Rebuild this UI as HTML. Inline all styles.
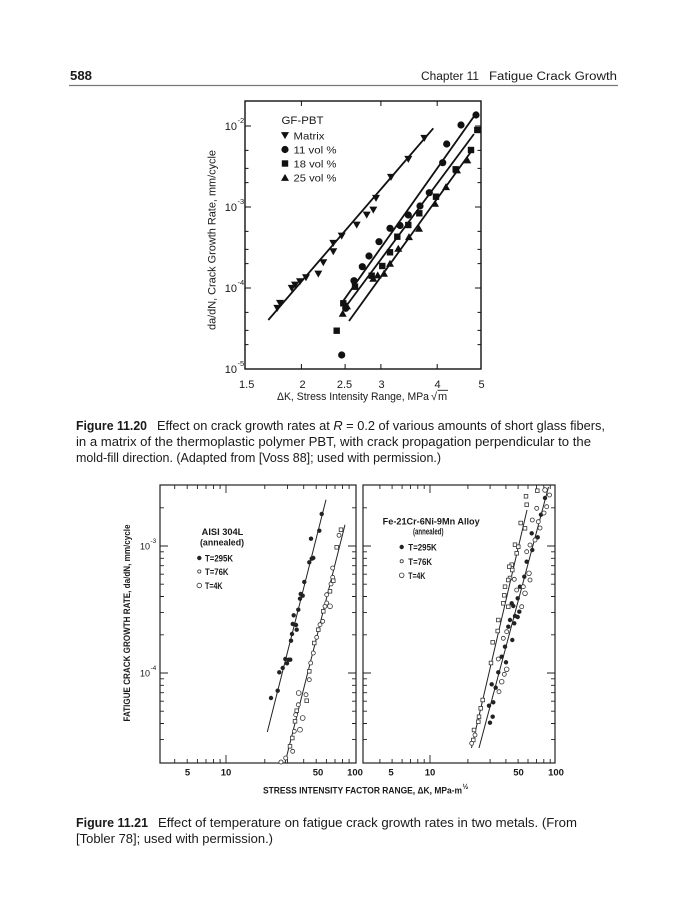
<!DOCTYPE html>
<html><head><meta charset="utf-8"><style>
html,body{margin:0;padding:0;background:#fff;}
svg{display:block;}
text{font-family:"Liberation Sans",Arial,sans-serif;fill:#1a1a1a;}
</style></head><body>
<svg width="690" height="900" viewBox="0 0 690 900" xmlns="http://www.w3.org/2000/svg">
<defs>
<path id="td" d="M-4,-3.4 L4,-3.4 L0,3.6Z" fill="#111"/>
<path id="tu" d="M-4,3.4 L4,3.4 L0,-3.6Z" fill="#111"/>
</defs>
<rect width="690" height="900" fill="#fff"/>

<!-- Header -->
<text x="70" y="80" font-size="12.5" font-weight="bold" textLength="22" lengthAdjust="spacingAndGlyphs">588</text>
<text x="421" y="80" font-size="11.5" textLength="58" lengthAdjust="spacingAndGlyphs">Chapter 11</text>
<text x="489" y="80" font-size="11.5" textLength="128" lengthAdjust="spacingAndGlyphs">Fatigue Crack Growth</text>
<line x1="69" y1="85.5" x2="618" y2="85.5" stroke="#777" stroke-width="1.2"/>

<!-- ================= TOP CHART ================= -->
<rect x="245" y="101" width="236" height="268" fill="none" stroke="#111" stroke-width="1.4"/>
<path d="M245 126h6M245 207h6M245 288h6M245 150.4h3.5M245 168.4h3.5M245 182.6h3.5M245 231.4h3.5M245 249.4h3.5M245 263.6h3.5M245 312.4h3.5M245 330.4h3.5M245 344.6h3.5
M481 126h-6M481 207h-6M481 288h-6M481 150.4h-3.5M481 168.4h-3.5M481 182.6h-3.5M481 231.4h-3.5M481 249.4h-3.5M481 263.6h-3.5M481 312.4h-3.5M481 330.4h-3.5M481 344.6h-3.5
M301.4 369v-5M345.1 369v-5M380.9 369v-5M437.2 369v-5M301.4 101v5M380.9 101v5M437.2 101v5" stroke="#111" stroke-width="1"/>

<!-- y tick labels -->
<g font-size="11">
<text x="237" y="130" text-anchor="end">10</text><text x="237.5" y="123" font-size="7.5">-2</text>
<text x="237" y="211" text-anchor="end">10</text><text x="237.5" y="204" font-size="7.5">-3</text>
<text x="237" y="292" text-anchor="end">10</text><text x="237.5" y="285" font-size="7.5">-4</text>
<text x="237" y="373" text-anchor="end">10</text><text x="237.5" y="366" font-size="7.5">-5</text>
</g>
<!-- x tick labels -->
<g font-size="11" text-anchor="middle">
<text x="246.7" y="388">1.5</text>
<text x="302.5" y="388">2</text>
<text x="344.5" y="388">2.5</text>
<text x="381.5" y="388">3</text>
<text x="437.5" y="388">4</text>
<text x="481.5" y="388">5</text>
</g>
<text x="277" y="400" font-size="11" textLength="152" lengthAdjust="spacingAndGlyphs">ΔK, Stress Intensity Range, MPa</text>
<text x="431" y="400" font-size="11">√</text>
<text x="438" y="400" font-size="11">m</text>
<line x1="437.5" y1="390.3" x2="448" y2="390.3" stroke="#1a1a1a" stroke-width="0.9"/>
<text transform="translate(215.5,240) rotate(-90)" font-size="11" text-anchor="middle" textLength="180" lengthAdjust="spacingAndGlyphs">da/dN, Crack Growth Rate, mm/cycle</text>

<!-- legend -->
<text x="281.5" y="124" font-size="11" textLength="42" lengthAdjust="spacingAndGlyphs">GF-PBT</text>
<use href="#td" x="285" y="135.5"/>
<text x="293.5" y="139.5" font-size="10.5" textLength="31" lengthAdjust="spacingAndGlyphs">Matrix</text>
<circle cx="285" cy="149.5" r="3.6" fill="#111"/>
<text x="293.5" y="153.5" font-size="10.5" textLength="43" lengthAdjust="spacingAndGlyphs">11 vol %</text>
<rect x="281.8" y="160.3" width="6.4" height="6.4" fill="#111"/>
<text x="293.5" y="167.5" font-size="10.5" textLength="43" lengthAdjust="spacingAndGlyphs">18 vol %</text>
<use href="#tu" x="285" y="177.5"/>
<text x="293.5" y="181.5" font-size="10.5" textLength="43" lengthAdjust="spacingAndGlyphs">25 vol %</text>

<!-- fit lines -->
<g stroke="#111" stroke-width="1.8" fill="none">
<line x1="268.3" y1="320" x2="433.3" y2="128.3"/>
<line x1="342.7" y1="301.7" x2="477.3" y2="111.7"/>
<line x1="344" y1="309" x2="474" y2="134"/>
<line x1="349" y1="321" x2="473" y2="149"/>
</g>

<!-- Matrix -->
<use href="#td" x="277.3" y="308.3"/><use href="#td" x="280" y="303.3"/><use href="#td" x="291.7" y="288.3"/>
<use href="#td" x="295" y="285"/><use href="#td" x="300" y="281.7"/><use href="#td" x="306" y="277.7"/>
<use href="#td" x="318.3" y="274"/><use href="#td" x="323.3" y="262.7"/><use href="#td" x="333.3" y="251.7"/>
<use href="#td" x="333.3" y="243.3"/><use href="#td" x="341.7" y="236"/><use href="#td" x="356.7" y="225"/>
<use href="#td" x="366.7" y="215"/><use href="#td" x="373.3" y="210"/><use href="#td" x="376" y="198.3"/>
<use href="#td" x="391" y="177.3"/><use href="#td" x="408.3" y="159.3"/><use href="#td" x="424.3" y="138.3"/>

<!-- 11 vol% -->
<g fill="#111">
<circle cx="341.7" cy="355" r="3.6"/><circle cx="345.7" cy="308.3" r="3.6"/><circle cx="354" cy="280.7" r="3.6"/>
<circle cx="362.3" cy="266.7" r="3.6"/><circle cx="369" cy="256" r="3.6"/><circle cx="379" cy="241.7" r="3.6"/>
<circle cx="390" cy="228.3" r="3.6"/><circle cx="400" cy="225.5" r="3.6"/><circle cx="408.3" cy="215" r="3.6"/>
<circle cx="420" cy="206" r="3.6"/><circle cx="429.3" cy="192.7" r="3.6"/><circle cx="442.7" cy="162.7" r="3.6"/>
<circle cx="446.7" cy="144" r="3.6"/><circle cx="461" cy="125" r="3.6"/><circle cx="476" cy="115" r="3.6"/>
</g>
<!-- 18 vol% -->
<g fill="#111">
<rect x="333.5" y="327.5" width="6.4" height="6.4"/><rect x="340.1" y="300.1" width="6.4" height="6.4"/>
<rect x="351.8" y="283.5" width="6.4" height="6.4"/><rect x="368.5" y="272.5" width="6.4" height="6.4"/>
<rect x="379.1" y="262.8" width="6.4" height="6.4"/><rect x="386.8" y="249.1" width="6.4" height="6.4"/>
<rect x="394.1" y="233.5" width="6.4" height="6.4"/><rect x="405.1" y="221.8" width="6.4" height="6.4"/>
<rect x="416.1" y="210.1" width="6.4" height="6.4"/><rect x="432.8" y="193.5" width="6.4" height="6.4"/>
<rect x="452.5" y="166.1" width="6.4" height="6.4"/><rect x="467.8" y="146.8" width="6.4" height="6.4"/>
<rect x="474.1" y="126.8" width="6.4" height="6.4"/>
</g>
<!-- 25 vol% -->
<use href="#tu" x="342.7" y="313.3"/><use href="#tu" x="347" y="306"/><use href="#tu" x="373.3" y="278.3"/>
<use href="#tu" x="377.7" y="275"/><use href="#tu" x="384" y="273.3"/><use href="#tu" x="390" y="263.3"/>
<use href="#tu" x="398.3" y="248.3"/><use href="#tu" x="409" y="236.7"/><use href="#tu" x="419" y="228.3"/>
<use href="#tu" x="435" y="203.3"/><use href="#tu" x="446" y="186.7"/><use href="#tu" x="457" y="170"/>
<use href="#tu" x="467.3" y="160"/>

<!-- Caption 11.20 -->
<g font-size="12.5">
<text x="76" y="430" font-weight="bold" textLength="71" lengthAdjust="spacingAndGlyphs">Figure 11.20</text>
<text x="157" y="430" textLength="448" lengthAdjust="spacingAndGlyphs">Effect on crack growth rates at <tspan font-style="italic">R</tspan> = 0.2 of various amounts of short glass fibers,</text>
<text x="76" y="446" textLength="515" lengthAdjust="spacingAndGlyphs">in a matrix of the thermoplastic polymer PBT, with crack propagation perpendicular to the</text>
<text x="76" y="462" textLength="365" lengthAdjust="spacingAndGlyphs">mold-fill direction. (Adapted from [Voss 88]; used with permission.)</text>
</g>

<!-- ================= BOTTOM CHART ================= -->
<g stroke="#222" fill="none">
<rect x="160" y="485" width="196" height="278" stroke-width="1.2"/>
<rect x="363" y="485" width="192" height="278" stroke-width="1.2"/>
<path stroke-width="0.9" d="M160 739.4h4M160 723.5h4M160 711.2h4M160 701.2h4M160 692.7h4M160 685.3h4M160 678.8h4M160 673h8M160 634.8h4M160 612.4h4M160 596.5h4M160 584.2h4M160 574.2h4M160 565.7h4M160 558.3h4M160 551.8h4M160 546h8M160 507.8h4
M356 739.4h-4M356 723.5h-4M356 711.2h-4M356 701.2h-4M356 692.7h-4M356 685.3h-4M356 678.8h-4M356 673h-8M356 634.8h-4M356 612.4h-4M356 596.5h-4M356 584.2h-4M356 574.2h-4M356 565.7h-4M356 558.3h-4M356 551.8h-4M356 546h-8M356 507.8h-4
M363 739.4h4M363 723.5h4M363 711.2h4M363 701.2h4M363 692.7h4M363 685.3h4M363 678.8h4M363 673h8M363 634.8h4M363 612.4h4M363 596.5h4M363 584.2h4M363 574.2h4M363 565.7h4M363 558.3h4M363 551.8h4M363 546h8M363 507.8h4
M555 739.4h-4M555 723.5h-4M555 711.2h-4M555 701.2h-4M555 692.7h-4M555 685.3h-4M555 678.8h-4M555 673h-8M555 634.8h-4M555 612.4h-4M555 596.5h-4M555 584.2h-4M555 574.2h-4M555 565.7h-4M555 558.3h-4M555 551.8h-4M555 546h-8M555 507.8h-4
M174.7 763v-4M187.2 763v-4M197.4 763v-4M206 763v-4M213.5 763v-4M220.1 763v-4M226 763v-8M264.8 763v-4M287.5 763v-4M303.7 763v-4M316.2 763v-4M326.4 763v-4M335 763v-4M342.5 763v-4M349.1 763v-4
M174.7 485v4M187.2 485v4M197.4 485v4M206 485v4M213.5 485v4M220.1 485v4M226 485v8M264.8 485v4M287.5 485v4M303.7 485v4M316.2 485v4M326.4 485v4M335 485v4M342.5 485v4M349.1 485v4
M379.9 763v-4M392.1 763v-4M402.1 763v-4M410.5 763v-4M417.8 763v-4M424.2 763v-4M430 763v-8M467.9 763v-4M490.1 763v-4M505.9 763v-4M518.1 763v-4M528 763v-4M536.5 763v-4M543.8 763v-4M550.2 763v-4
M379.9 485v4M392.1 485v4M402.1 485v4M410.5 485v4M417.8 485v4M424.2 485v4M430 485v8M467.9 485v4M490.1 485v4M505.9 485v4M518.1 485v4M528 485v4M536.5 485v4M543.8 485v4M550.2 485v4"/>
</g>

<!-- bottom y tick labels -->
<g font-size="9">
<text x="150" y="549.5" text-anchor="end">10</text><text x="150.5" y="543" font-size="6.5">-3</text>
<text x="150" y="676.5" text-anchor="end">10</text><text x="150.5" y="670" font-size="6.5">-4</text>
</g>
<!-- bottom x tick labels -->
<g font-size="9.5" font-weight="bold" text-anchor="middle">
<text x="187.5" y="775.5">5</text><text x="226" y="775.5">10</text><text x="318" y="775.5">50</text><text x="355" y="775.5">100</text>
<text x="391" y="775.5">5</text><text x="430" y="775.5">10</text><text x="518.5" y="775.5">50</text><text x="556" y="775.5">100</text>
</g>
<text x="263" y="793.5" font-size="9" font-weight="bold" textLength="199" lengthAdjust="spacingAndGlyphs">STRESS INTENSITY FACTOR RANGE, ΔK, MPa-m</text>
<text x="462.5" y="789" font-size="7" font-weight="bold">½</text>
<text transform="translate(130,623) rotate(-90)" font-size="9" font-weight="bold" text-anchor="middle" textLength="197" lengthAdjust="spacingAndGlyphs">FATIGUE CRACK GROWTH RATE, da/dN, mm/cycle</text>

<!-- left panel legend -->
<g font-size="8.8" font-weight="bold">
<text x="201.7" y="535" textLength="41.6" lengthAdjust="spacingAndGlyphs">AISI 304L</text>
<text x="200" y="545.5" textLength="44" lengthAdjust="spacingAndGlyphs">(annealed)</text>
<text x="205" y="561.5" textLength="28" lengthAdjust="spacingAndGlyphs">T=295K</text>
<text x="205" y="575" textLength="23.5" lengthAdjust="spacingAndGlyphs">T=76K</text>
<text x="205" y="589" textLength="17.5" lengthAdjust="spacingAndGlyphs">T=4K</text>
</g>
<circle cx="199.3" cy="558" r="2.2" fill="#222"/>
<circle cx="199.3" cy="571.5" r="1.6" fill="none" stroke="#333" stroke-width="0.8"/>
<circle cx="199.3" cy="585.5" r="2.3" fill="none" stroke="#333" stroke-width="0.8"/>

<!-- right panel legend -->
<g font-size="8.8" font-weight="bold">
<text x="382.7" y="524.5" textLength="97" lengthAdjust="spacingAndGlyphs">Fe-21Cr-6Ni-9Mn Alloy</text>
<text x="413" y="534.5" textLength="30.5" lengthAdjust="spacingAndGlyphs">(annealed)</text>
<text x="408.3" y="550.5" textLength="28.4" lengthAdjust="spacingAndGlyphs">T=295K</text>
<text x="408.3" y="564.8" textLength="23.7" lengthAdjust="spacingAndGlyphs">T=76K</text>
<text x="408.3" y="578.8" textLength="17" lengthAdjust="spacingAndGlyphs">T=4K</text>
</g>
<circle cx="401.7" cy="547" r="2.2" fill="#222"/>
<circle cx="401.7" cy="561.3" r="1.6" fill="none" stroke="#333" stroke-width="0.8"/>
<circle cx="401.7" cy="575.3" r="2.3" fill="none" stroke="#333" stroke-width="0.8"/>

<!-- bottom lines -->
<g stroke="#222" stroke-width="1">
<line x1="267.3" y1="732" x2="326" y2="499.7"/>
<line x1="285" y1="763" x2="345" y2="524.7"/>
<line x1="471.5" y1="748" x2="527" y2="510"/>
<line x1="479" y1="748" x2="548.5" y2="487"/>
</g>

<!-- left panel 295K -->
<g fill="#222">
<circle cx="271" cy="698" r="2.2"/><circle cx="277.7" cy="690.7" r="2.2"/><circle cx="279.3" cy="672.3" r="2.2"/>
<circle cx="282.7" cy="668" r="2.2"/><circle cx="285.3" cy="659" r="2.2"/><circle cx="287" cy="663.3" r="2.2"/>
<circle cx="288.7" cy="659.7" r="2.2"/><circle cx="290.3" cy="659.7" r="2.2"/><circle cx="291" cy="640.7" r="2.2"/>
<circle cx="292" cy="634" r="2.2"/><circle cx="292.7" cy="624" r="2.2"/><circle cx="293.7" cy="615.3" r="2.2"/>
<circle cx="296" cy="625" r="2.2"/><circle cx="296.7" cy="629.7" r="2.2"/><circle cx="298.3" cy="609.7" r="2.2"/>
<circle cx="300" cy="598.7" r="2.2"/><circle cx="300.7" cy="594" r="2.2"/><circle cx="302.7" cy="595.7" r="2.2"/>
<circle cx="304.3" cy="582" r="2.2"/><circle cx="309.3" cy="562.3" r="2.2"/><circle cx="311.7" cy="558.7" r="2.2"/>
<circle cx="311" cy="538.7" r="2.2"/><circle cx="313.3" cy="558" r="2.2"/><circle cx="319.3" cy="530.7" r="2.2"/>
<circle cx="321.7" cy="514" r="2.2"/>
</g>
<!-- left panel open -->
<g fill="#fff" stroke="#333" stroke-width="0.8">
<circle cx="281" cy="762" r="2"/><circle cx="285.7" cy="758" r="2"/><rect x="288.2" y="744.5" width="3.6" height="3.6"/>
<circle cx="292.7" cy="751.3" r="2"/><rect x="290.5" y="736.2" width="3.6" height="3.6"/><circle cx="294.3" cy="731.3" r="2"/>
<rect x="293.2" y="719.5" width="3.6" height="3.6"/><circle cx="295.7" cy="714.7" r="2"/><rect x="294.9" y="708.9" width="3.6" height="3.6"/>
<circle cx="298.3" cy="704.7" r="2"/><circle cx="300" cy="729.7" r="2.4"/><circle cx="302.7" cy="718" r="2.4"/>
<circle cx="298.7" cy="693" r="2.4"/><circle cx="306" cy="694.7" r="2"/><rect x="304.9" y="698.9" width="3.6" height="3.6"/>
<circle cx="309.3" cy="679.7" r="2"/><rect x="307.5" y="669.5" width="3.6" height="3.6"/><circle cx="310.7" cy="663" r="2"/>
<circle cx="313.3" cy="653" r="2"/><rect x="312.5" y="641.2" width="3.6" height="3.6"/><circle cx="316.7" cy="637.3" r="2"/>
<rect x="316.5" y="627.9" width="3.6" height="3.6"/><circle cx="320" cy="624.7" r="2"/><circle cx="322.7" cy="621.3" r="2"/>
<rect x="321.5" y="609.5" width="3.6" height="3.6"/><circle cx="325" cy="606.3" r="2"/><circle cx="326.7" cy="603" r="2"/>
<circle cx="330" cy="606.3" r="2.4"/><circle cx="326.7" cy="594.7" r="2"/><rect x="328.2" y="589.5" width="3.6" height="3.6"/>
<circle cx="331" cy="584" r="2"/><circle cx="332.7" cy="577.3" r="2"/><rect x="331.5" y="578.9" width="3.6" height="3.6"/>
<circle cx="332.7" cy="568" r="2"/><rect x="334.9" y="545.5" width="3.6" height="3.6"/><circle cx="339" cy="535.3" r="2"/>
<rect x="339.2" y="527.9" width="3.6" height="3.6"/>
</g>

<!-- right panel 295K -->
<g fill="#222">
<circle cx="541" cy="514.7" r="2.2"/><circle cx="531.7" cy="533.3" r="2.2"/><circle cx="537.7" cy="537.3" r="2.2"/>
<circle cx="532.3" cy="550" r="2.2"/><circle cx="526.7" cy="561.7" r="2.2"/><circle cx="524.3" cy="576.7" r="2.2"/>
<circle cx="520" cy="586.7" r="2.2"/><circle cx="517.7" cy="598.3" r="2.2"/><circle cx="511.7" cy="603.3" r="2.2"/>
<circle cx="513.3" cy="606" r="2.2"/><circle cx="519.3" cy="611.7" r="2.2"/><circle cx="515" cy="616" r="2.2"/>
<circle cx="510" cy="620" r="2.2"/><circle cx="514.3" cy="623.3" r="2.2"/><circle cx="517.7" cy="617" r="2.2"/>
<circle cx="508.3" cy="626.7" r="2.2"/><circle cx="512.3" cy="640" r="2.2"/><circle cx="505" cy="646.7" r="2.2"/>
<circle cx="501.7" cy="656.7" r="2.2"/><circle cx="506" cy="662.3" r="2.2"/><circle cx="498.3" cy="672.3" r="2.2"/>
<circle cx="491.7" cy="684.3" r="2.2"/><circle cx="495.7" cy="687.7" r="2.2"/><circle cx="493.3" cy="702.3" r="2.2"/>
<circle cx="489" cy="705.7" r="2.2"/><circle cx="492.7" cy="716.7" r="2.2"/><circle cx="490" cy="722.7" r="2.2"/>
<circle cx="545" cy="498" r="2.2"/>
</g>
<!-- right panel open squares -->
<g fill="#fff" stroke="#333" stroke-width="0.8">
<rect x="524.2" y="494.5" width="3.6" height="3.6"/><rect x="524.9" y="502.9" width="3.6" height="3.6"/>
<rect x="535.5" y="488.9" width="3.6" height="3.6"/><rect x="518.9" y="521.2" width="3.6" height="3.6"/>
<rect x="523.2" y="526.5" width="3.6" height="3.6"/><rect x="513.2" y="542.9" width="3.6" height="3.6"/>
<rect x="516.5" y="544.9" width="3.6" height="3.6"/><rect x="514.9" y="551.5" width="3.6" height="3.6"/>
<rect x="509.9" y="562.9" width="3.6" height="3.6"/><rect x="507.5" y="564.9" width="3.6" height="3.6"/>
<rect x="510.5" y="568.2" width="3.6" height="3.6"/><rect x="508.2" y="576.2" width="3.6" height="3.6"/>
<rect x="506.5" y="578.2" width="3.6" height="3.6"/><rect x="503.2" y="584.9" width="3.6" height="3.6"/>
<rect x="502.5" y="593.5" width="3.6" height="3.6"/><rect x="501.5" y="601.5" width="3.6" height="3.6"/>
<rect x="506.5" y="604.9" width="3.6" height="3.6"/><rect x="496.5" y="618.2" width="3.6" height="3.6"/>
<rect x="495.9" y="629.2" width="3.6" height="3.6"/><rect x="490.9" y="640.5" width="3.6" height="3.6"/>
<rect x="489.2" y="661.2" width="3.6" height="3.6"/><rect x="480.9" y="698.2" width="3.6" height="3.6"/>
<rect x="478.9" y="706.5" width="3.6" height="3.6"/><rect x="477.2" y="714.9" width="3.6" height="3.6"/>
<rect x="476.5" y="719.9" width="3.6" height="3.6"/><rect x="472.2" y="728.2" width="3.6" height="3.6"/>
<rect x="471.5" y="738.2" width="3.6" height="3.6"/>
</g>
<!-- right panel open circles -->
<g fill="#fff" stroke="#333" stroke-width="0.8">
<circle cx="536.7" cy="508.3" r="2"/><circle cx="545" cy="490" r="2.3"/><circle cx="546.7" cy="506.7" r="2"/>
<circle cx="538.3" cy="521.7" r="2"/><circle cx="532.3" cy="520" r="2"/><circle cx="535" cy="540" r="2"/>
<circle cx="530" cy="545" r="2"/><circle cx="526.7" cy="551.7" r="2"/><circle cx="529" cy="573.3" r="2.3"/>
<circle cx="530" cy="580" r="2"/><circle cx="523.3" cy="586.7" r="2"/><circle cx="525" cy="593.3" r="2.3"/>
<circle cx="521.7" cy="606.7" r="2"/><circle cx="516.7" cy="590" r="2"/><circle cx="514.3" cy="579.3" r="2"/>
<circle cx="506.7" cy="631.7" r="2"/><circle cx="503.3" cy="638.3" r="2"/><circle cx="506.7" cy="669.3" r="2.3"/>
<circle cx="504.3" cy="674.3" r="2"/><circle cx="501.7" cy="681.7" r="2.3"/><circle cx="499" cy="691.7" r="2"/>
<circle cx="498.3" cy="659" r="2"/><circle cx="475" cy="735" r="2"/><circle cx="471.7" cy="743.3" r="2"/>
<circle cx="549.5" cy="495" r="2"/><circle cx="540" cy="528" r="2"/><circle cx="544" cy="513" r="2"/>
</g>

<!-- Caption 11.21 -->
<g font-size="12.5">
<text x="76" y="827" font-weight="bold" textLength="72" lengthAdjust="spacingAndGlyphs">Figure 11.21</text>
<text x="158" y="827" textLength="419" lengthAdjust="spacingAndGlyphs">Effect of temperature on fatigue crack growth rates in two metals. (From</text>
<text x="76" y="843" textLength="197" lengthAdjust="spacingAndGlyphs">[Tobler 78]; used with permission.)</text>
</g>
</svg>
</body></html>
